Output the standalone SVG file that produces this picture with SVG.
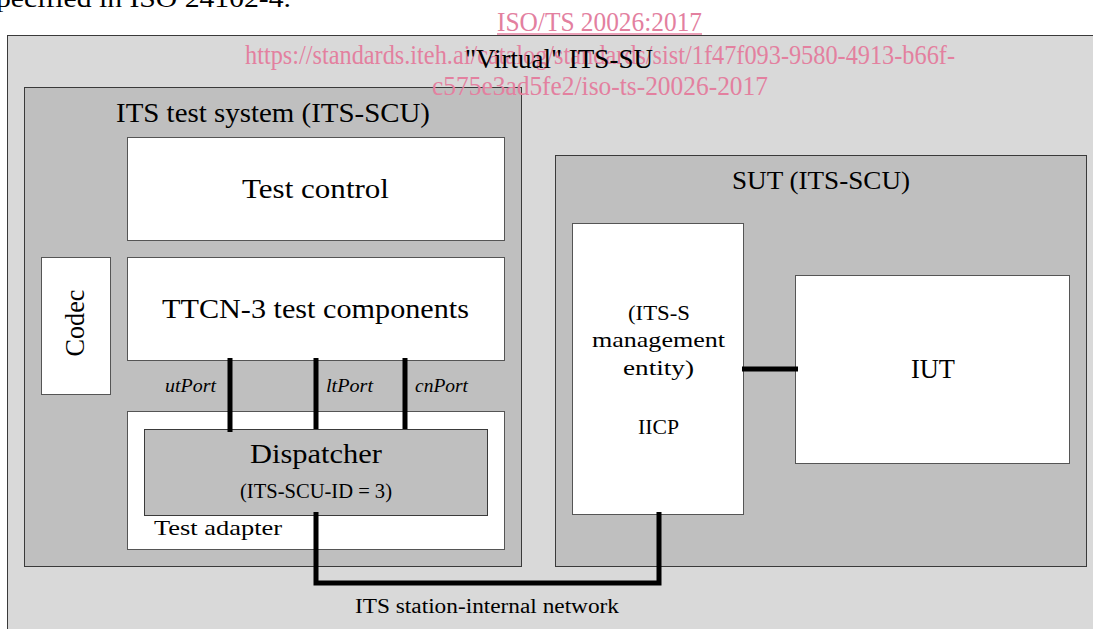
<svg xmlns="http://www.w3.org/2000/svg" width="1093" height="629" viewBox="0 0 1093 629">
<style>
  .t{font-family:"Liberation Serif","DejaVu Serif",serif;fill:#000;text-anchor:middle}
  .it{font-style:italic}
  .wm{font-family:"Liberation Serif",serif;fill:#e3809f}
  .bg{fill:#d9d9d9;stroke:#3a3a3a;stroke-width:1}
  .grey{fill:#bfbfbf;stroke:#3a3a3a;stroke-width:1}
  .white{fill:#fff;stroke:#555;stroke-width:1}
  .conn{fill:none;stroke:#000;stroke-width:5}
</style>
<rect width="1093" height="629" fill="#fff"/>
<text class="t" x="-4" y="7" font-size="26" style="text-anchor:start" textLength="295" lengthAdjust="spacingAndGlyphs">pecified in ISO 24102-4.</text>

<g id="virtual-its-su">
  <rect class="bg" x="7.5" y="35.5" width="1100" height="620"/>
</g>

<g id="its-test-system">
  <rect class="grey" x="24.5" y="87.5" width="497" height="479"/>
  <text class="t" x="273" y="122" font-size="28" textLength="314" lengthAdjust="spacingAndGlyphs">ITS test system (ITS-SCU)</text>
</g>
<g id="test-control">
  <rect class="white" x="127.5" y="137.5" width="377" height="103"/>
  <text class="t" x="315.5" y="198" font-size="28" textLength="147" lengthAdjust="spacingAndGlyphs">Test control</text>
</g>
<g id="codec">
  <rect class="white" x="41.5" y="257.5" width="69" height="137"/>
  <text class="t" transform="translate(84 323) rotate(-90)" x="0" y="0" font-size="28" textLength="67" lengthAdjust="spacingAndGlyphs">Codec</text>
</g>
<g id="ttcn3">
  <rect class="white" x="127.5" y="257.5" width="377" height="103"/>
  <text class="t" x="315.5" y="318" font-size="28" textLength="307" lengthAdjust="spacingAndGlyphs">TTCN-3 test components</text>
</g>
<g id="test-adapter">
  <rect class="white" x="127.5" y="411.5" width="377" height="138"/>
  <text class="t" x="154" y="535" font-size="22" style="text-anchor:start" textLength="128" lengthAdjust="spacingAndGlyphs">Test adapter</text>
</g>
<g id="dispatcher">
  <rect class="grey" x="144.5" y="429.5" width="343" height="86"/>
  <text class="t" x="316" y="463" font-size="28" textLength="132" lengthAdjust="spacingAndGlyphs">Dispatcher</text>
  <text class="t" x="316" y="498" font-size="20" textLength="152" lengthAdjust="spacingAndGlyphs">(ITS-SCU-ID = 3)</text>
</g>

<g id="sut">
  <rect class="grey" x="555.5" y="155.5" width="531" height="411"/>
  <text class="t" x="821" y="189" font-size="26" textLength="178" lengthAdjust="spacingAndGlyphs">SUT (ITS-SCU)</text>
</g>
<g id="iicp">
  <rect class="white" x="572.5" y="223.5" width="171" height="291"/>
  <text class="t" x="659" y="320" font-size="22" textLength="62" lengthAdjust="spacingAndGlyphs">(ITS-S</text>
  <text class="t" x="658.5" y="347" font-size="22" textLength="133" lengthAdjust="spacingAndGlyphs">management</text>
  <text class="t" x="658.5" y="375" font-size="22" textLength="71" lengthAdjust="spacingAndGlyphs">entity)</text>
  <text class="t" x="658.5" y="434" font-size="22" textLength="41" lengthAdjust="spacingAndGlyphs">IICP</text>
</g>
<g id="iut">
  <rect class="white" x="795.5" y="275.5" width="274" height="188"/>
  <text class="t" x="933" y="378" font-size="28" textLength="44" lengthAdjust="spacingAndGlyphs">IUT</text>
</g>

<g id="connectors">
  <line class="conn" x1="230" y1="358" x2="230" y2="432"/>
  <line class="conn" x1="316" y1="358" x2="316" y2="429"/>
  <line class="conn" x1="405" y1="358" x2="405" y2="429"/>
  <path class="conn" d="M316 512 V583 H659 V512"/>
  <line class="conn" x1="742" y1="369" x2="798" y2="369"/>
  <text class="t it" x="190.5" y="392" font-size="19" textLength="51" lengthAdjust="spacingAndGlyphs">utPort</text>
  <text class="t it" x="349.5" y="392" font-size="19" textLength="47" lengthAdjust="spacingAndGlyphs">ltPort</text>
  <text class="t it" x="441.5" y="392" font-size="19" textLength="53" lengthAdjust="spacingAndGlyphs">cnPort</text>
  <text class="t" x="487" y="613" font-size="20" textLength="264" lengthAdjust="spacingAndGlyphs">ITS station-internal network</text>
</g>

<g id="watermark">
  <text class="wm" x="497" y="31" font-size="27" textLength="205" lengthAdjust="spacingAndGlyphs">ISO/TS 20026:2017</text>
  <line x1="497" y1="34" x2="702" y2="34" stroke="#e3809f" stroke-width="1.5"/>
  <text class="wm" x="245" y="64" font-size="28" textLength="710" lengthAdjust="spacingAndGlyphs">https://standards.iteh.ai/catalog/standards/sist/1f47f093-9580-4913-b66f-</text>
  <text class="wm" x="432" y="95" font-size="28" textLength="336" lengthAdjust="spacingAndGlyphs">c575e3ad5fe2/iso-ts-20026-2017</text>
</g>
<text class="t" x="559" y="68" font-size="27" textLength="188" lengthAdjust="spacingAndGlyphs">"Virtual" ITS-SU</text>
</svg>
